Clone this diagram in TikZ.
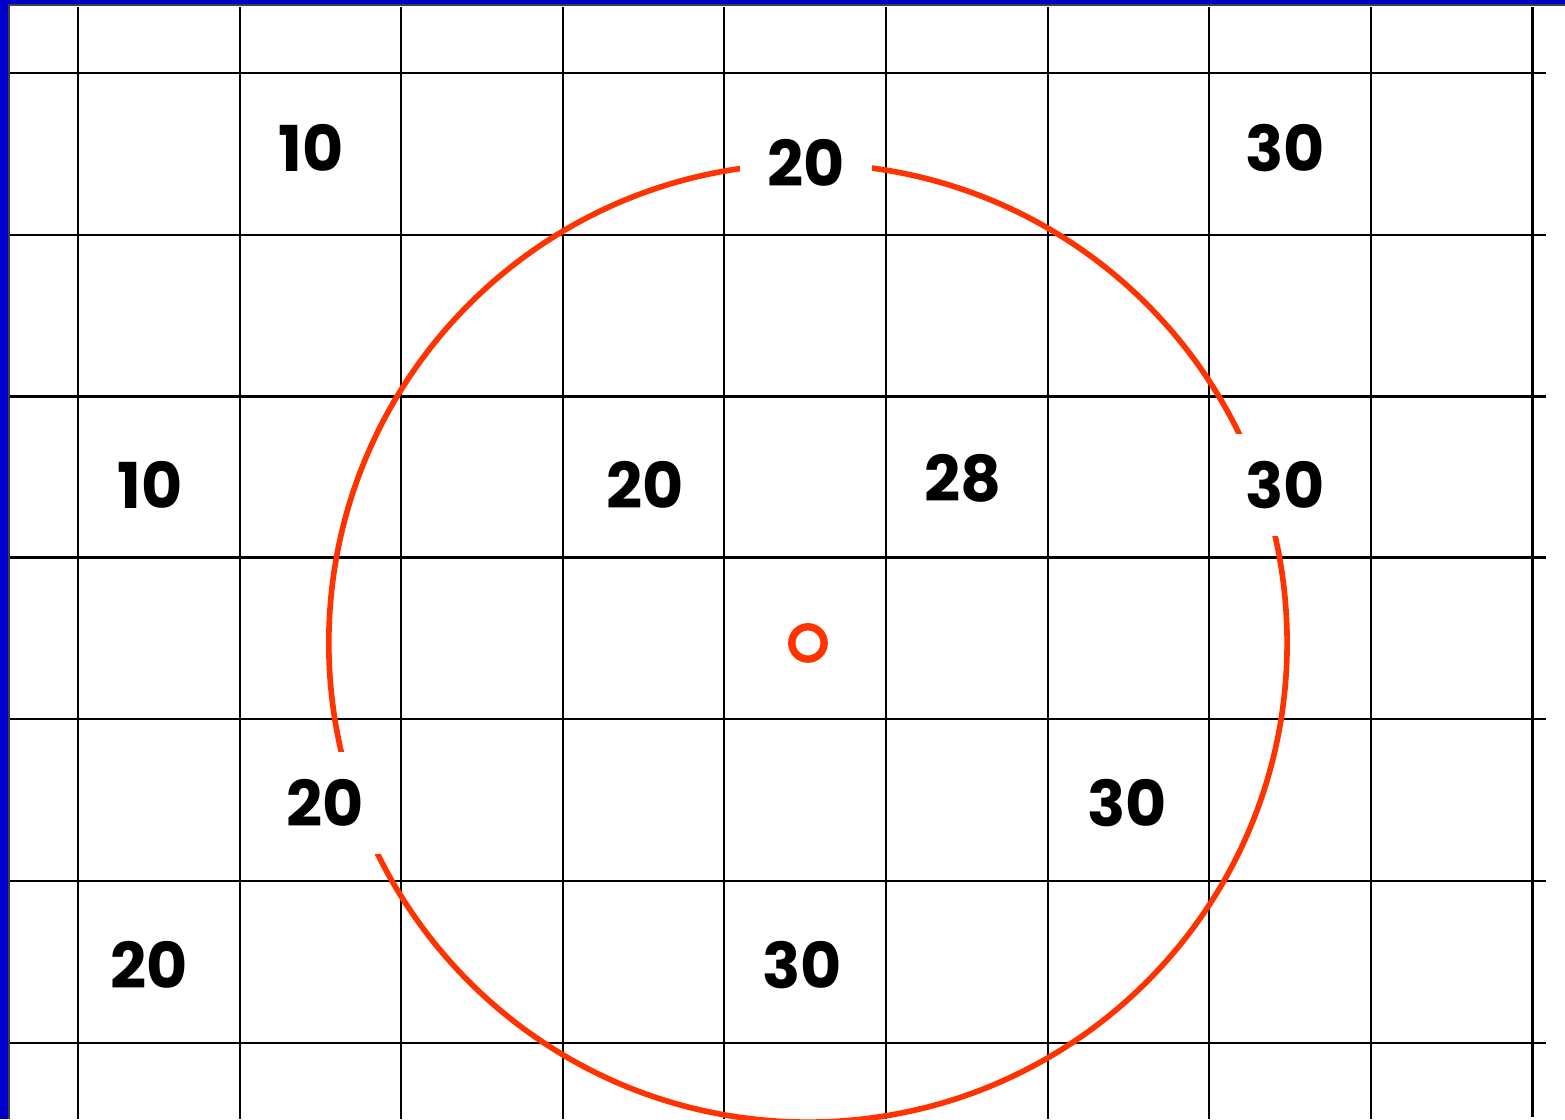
\documentclass[tikz,border=0pt]{standalone}
\usepackage{fontspec}
\setsansfont{Poppins}
\definecolor{RingRed}  {RGB}{255,51,0}
\definecolor{FrameBlue}{RGB}{0,0,204}

\begin{document}
\begin{tikzpicture}[x=1.616cm,y=1.616cm,
    val/.style={font=\sffamily\bfseries\fontsize{18}{20}\selectfont,
                inner sep=0.27cm},
    gap/.style={val,fill=white}]
  \useasboundingbox (-0.4827,0.4517) rectangle (9.2017,-6.4728);
  %% Frame -- blue band left and top
  \fill[FrameBlue](-0.4827,0.4517) rectangle (-0.433,-6.4728);
  \fill[FrameBlue](-0.4827,0.4517) rectangle (9.2017,0.427);
  \draw[black!75,line width=0.5pt](-0.427,-6.4728) |- (9.2017,0.421);
  %% Grid
  \foreach \i in {0,...,8}
    \draw[line width=0.57pt](\i,0.408)--(\i,-6.4728);
  \draw[line width=1pt](9,0.408)--(9,-6.46);
  \foreach \j in {0,1,4,5,6}
    \draw[line width=0.57pt](-0.421,-\j)--(9.084,-\j);
  \foreach \j in {2,3}
    \draw[line width=0.8pt](-0.421,-\j)--(9.084,-\j);
  %% Search circle and its centre
  \coordinate (ctr) at (4.517,-3.527);
  \draw[RingRed,line width=1.6pt](ctr) circle(2.965);
  \draw[RingRed,line width=2.1pt](ctr) circle(0.1);
  %% Values -- those on the circle cut it
  \node[val] (a10) at (1.442,-0.464){10};
  \node[gap] (a20) at (4.505,-0.557){20};
  \node[val] (a30) at (7.469,-0.464){30};
  \node[val] (b10) at (0.446,-2.550){10};
  \node[val] (b20) at (3.509,-2.550){20};
  \node[val] (b28) at (5.476,-2.506){28};
  \node[gap] (b30) at (7.469,-2.550){30};
  \node[gap] (c20) at (1.528,-4.517){20};
  \node[val] (c30) at (6.491,-4.517){30};
  \node[val] (d20) at (0.439,-5.520){20};
  \node[val] (d30) at (4.480,-5.520){30};
\end{tikzpicture}
\end{document}
